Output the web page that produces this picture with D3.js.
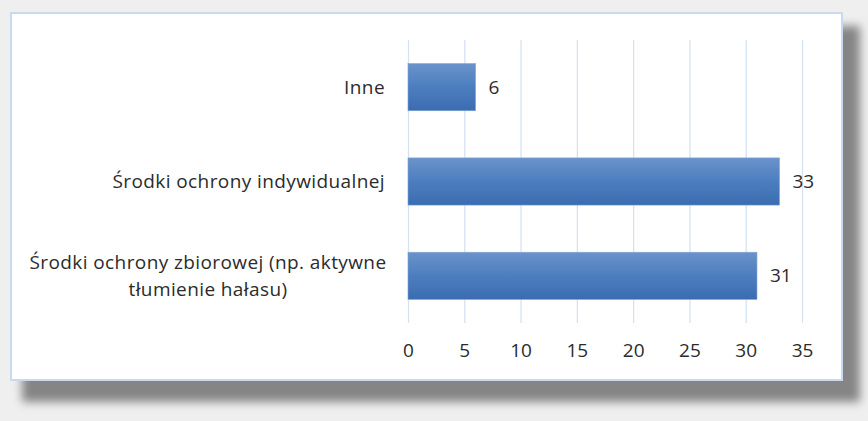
<!DOCTYPE html>
<html>
<head>
<meta charset="utf-8">
<script src="https://cdn.jsdelivr.net/npm/d3@7"></script>
<style>
  html, body { margin: 0; padding: 0; background: #efefef; }
  svg { display: block; }
</style>
</head>
<body>
<div id="chart"></div>
<script>
var categories = [
  "Inne",
  "Środki ochrony indywidualnej",
  "Środki ochrony zbiorowej (np. aktywne\ntłumienie hałasu)"
];
var values = [6, 33, 31];
var tickValues = [0, 5, 10, 15, 20, 25, 30, 35];

var W = 868, H = 421;
var font = "'Open Sans', sans-serif";

var svg = d3.select("#chart").append("svg")
  .attr("width", W)
  .attr("height", H);

var defs = svg.append("defs");

var blur = defs.append("filter").attr("id", "shadow")
  .attr("x", "-10%").attr("y", "-10%").attr("width", "130%").attr("height", "130%");
blur.append("feGaussianBlur").attr("stdDeviation", 5);

var grad = defs.append("linearGradient").attr("id", "barFill")
  .attr("x1", 0).attr("y1", 0).attr("x2", 0).attr("y2", 1);
grad.append("stop").attr("offset", "0%").attr("stop-color", "#6a93ca");
grad.append("stop").attr("offset", "50%").attr("stop-color", "#4c7ebf");
grad.append("stop").attr("offset", "100%").attr("stop-color", "#3a6cb0");

// background and frame
svg.append("rect").attr("width", W).attr("height", H).attr("fill", "#efefef");
svg.append("rect")
  .attr("x", 22).attr("y", 26).attr("width", 838).attr("height", 376)
  .attr("fill", "#858585")
  .attr("filter", "url(#shadow)");
svg.append("rect")
  .attr("x", 11).attr("y", 13).attr("width", 831).attr("height", 367)
  .attr("fill", "#ffffff")
  .attr("stroke", "#c9daf0")
  .attr("stroke-width", 2);

var x = d3.scaleLinear()
  .domain([0, 35])
  .range([408, 802]);

var y = d3.scaleBand()
  .domain(categories)
  .range([40, 323])
  .paddingInner(0.5)
  .paddingOuter(0.25);

// gridlines
svg.append("g")
  .selectAll("line")
  .data(tickValues)
  .enter().append("line")
    .attr("x1", function(d) { return x(d) + 0.5; })
    .attr("x2", function(d) { return x(d) + 0.5; })
    .attr("y1", 40)
    .attr("y2", 323)
    .attr("stroke", "#d6e2f2")
    .attr("stroke-width", 1.3);

// bars
svg.append("g")
  .selectAll("rect")
  .data(values)
  .enter().append("rect")
    .attr("x", x(0))
    .attr("y", function(d, i) { return y(categories[i]); })
    .attr("width", function(d) { return x(d) - x(0); })
    .attr("height", y.bandwidth())
    .attr("fill", "url(#barFill)")
    .attr("stroke", "#7fa2d2")
    .attr("stroke-width", 0.6);

// value labels
svg.append("g")
  .selectAll("text")
  .data(values)
  .enter().append("text")
    .attr("x", function(d) { return x(d) + 13; })
    .attr("y", function(d, i) { return y(categories[i]) + y.bandwidth() / 2; })
    .attr("dy", "0.35em")
    .attr("font-family", font)
    .attr("font-size", 19)
    .attr("fill", "#2b2b2b")
    .text(function(d) { return d; });

// category labels
var catG = svg.append("g");
categories.forEach(function(c) {
  var lines = c.split("\n");
  var cy = y(c) + y.bandwidth() / 2;
  var t = catG.append("text")
    .attr("font-family", font)
    .attr("font-size", 19)
    .attr("letter-spacing", "0.4px")
    .attr("fill", "#2b2b2b");
  if (lines.length === 1) {
    t.attr("x", 385).attr("y", cy).attr("dy", "0.35em")
      .attr("text-anchor", "end").text(c);
  } else {
    var lh = 27;
    lines.forEach(function(l, k) {
      t.append("tspan")
        .attr("x", 208)
        .attr("y", cy + (k - (lines.length - 1) / 2) * lh)
        .attr("dy", "0.35em")
        .attr("text-anchor", "middle")
        .text(l);
    });
  }
});

// x axis
var axis = svg.append("g")
  .attr("transform", "translate(0,343)")
  .call(d3.axisBottom(x).tickValues(tickValues).tickSize(0).tickPadding(0));
axis.select(".domain").remove();
axis.selectAll("text")
  .attr("font-family", font)
  .attr("font-size", 19)
  .attr("fill", "#2b2b2b")
  .attr("dy", "0.71em");
</script>
</body>
</html>
